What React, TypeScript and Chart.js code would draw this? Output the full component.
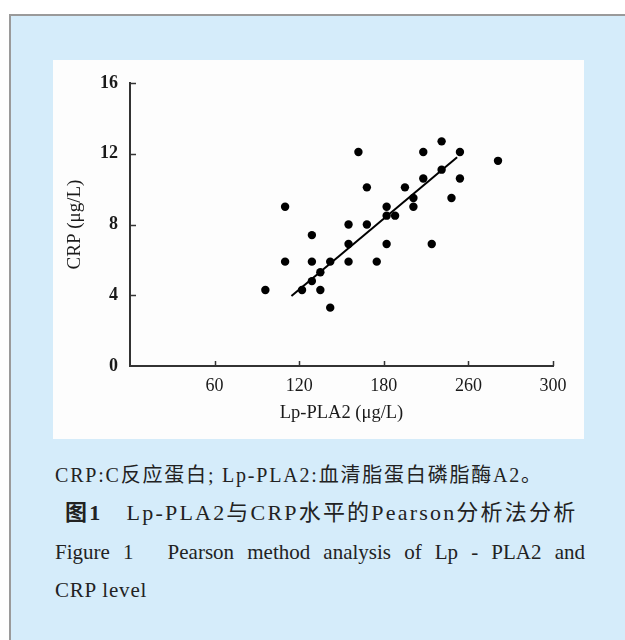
import React, { useEffect, useRef } from "react";
import { Chart, registerables } from "chart.js";

Chart.register(...registerables);

// Data
const lpPla2 = [162, 208, 221, 234, 261, 221, 208, 234, 168, 195, 201, 228, 110, 182, 201, 182, 188, 155, 168, 129, 155, 182, 214, 110, 129, 142, 155, 175, 135, 129, 96, 122, 135, 142];
const crp = [12.1, 12.1, 12.7, 12.1, 11.6, 11.1, 10.6, 10.6, 10.1, 10.1, 9.5, 9.5, 9.0, 9.0, 9.0, 8.5, 8.5, 8.0, 8.0, 7.4, 6.9, 6.9, 6.9, 5.9, 5.9, 5.9, 5.9, 5.9, 5.3, 4.8, 4.3, 4.3, 4.3, 3.3];
const fitX = [114.5, 232];
const fitY = [3.96, 11.8];
const xTickLabels = ["", "60", "120", "180", "260", "300"];
const yTickLabels = ["0", "4", "8", "12", "16"];
const xTitle = "Lp-PLA2 (μg/L)";
const yTitle = "CRP (μg/L)";

const SERIF = "'Liberation Serif', 'DejaVu Serif', serif";
const CJK = "'Liberation Serif', 'Noto Sans CJK SC', serif";

const innerTicks = {
  id: "innerTicks",
  afterDraw(chart: any) {
    const { ctx, scales } = chart;
    const xs = scales.x;
    const ys = scales.y;
    ctx.save();
    ctx.strokeStyle = "#333";
    ctx.lineWidth = 1.5;
    xs.ticks.forEach((t: any) => {
      if (t.value === 0) return;
      const px = Math.round(xs.getPixelForValue(t.value)) + 0.5;
      ctx.beginPath();
      ctx.moveTo(px, ys.bottom);
      ctx.lineTo(px, ys.bottom - 5);
      ctx.stroke();
    });
    ys.ticks.forEach((t: any) => {
      if (t.value === 0) return;
      const py = Math.round(ys.getPixelForValue(t.value)) + 0.5;
      ctx.beginPath();
      ctx.moveTo(xs.left, py);
      ctx.lineTo(xs.left + 6, py);
      ctx.stroke();
    });
    ctx.restore();
  },
};

function ScatterChart() {
  const ref = useRef<HTMLCanvasElement | null>(null);
  useEffect(() => {
    if (!ref.current) return;
    const points = lpPla2.map((x, i) => ({ x, y: crp[i] }));
    const fit = fitX.map((x, i) => ({ x, y: fitY[i] }));
    const chart = new Chart(ref.current, {
      type: "scatter",
      data: {
        datasets: [
          {
            data: points,
            backgroundColor: "#000",
            borderColor: "#000",
            pointRadius: 4.2,
            pointHoverRadius: 4.2,
            borderWidth: 0,
          },
          {
            type: "line",
            data: fit,
            borderColor: "#000",
            borderWidth: 2,
            pointRadius: 0,
            fill: false,
          } as any,
        ],
      },
      plugins: [innerTicks],
      options: {
        animation: false,
        responsive: false,
        maintainAspectRatio: false,
        layout: { padding: { left: 10.6, top: 23, right: 31, bottom: 14.9 } },
        plugins: { legend: { display: false }, tooltip: { enabled: false } },
        scales: {
          x: {
            type: "linear",
            min: 0,
            max: 300,
            afterFit: (s: any) => {
              s.height = 58.1;
            },
            afterBuildTicks: (s: any) => {
              s.ticks = xTickLabels.map((_, i) => ({ value: i * 60 }));
            },
            ticks: {
              padding: 9,
              color: "#1a1a1a",
              font: { family: SERIF, size: 18 },
              maxRotation: 0,
              autoSkip: false,
              callback: (_v: any, i: number) => xTickLabels[i],
            },
            grid: { display: false, drawTicks: false },
            border: { display: true, color: "#333", width: 2 },
            title: {
              display: true,
              text: xTitle,
              color: "#1a1a1a",
              font: { family: SERIF, size: 18.5 },
              padding: 0,
            },
          },
          y: {
            type: "linear",
            min: 0,
            max: 16,
            afterFit: (s: any) => {
              s.width = 66.4;
            },
            afterBuildTicks: (s: any) => {
              s.ticks = yTickLabels.map((_, i) => ({ value: i * 4 }));
            },
            ticks: {
              padding: 12,
              color: "#1a1a1a",
              font: { family: SERIF, size: 18, weight: "bold" },
              autoSkip: false,
              callback: (_v: any, i: number) => yTickLabels[i],
            },
            grid: { display: false, drawTicks: false },
            border: { display: true, color: "#333", width: 2 },
            title: {
              display: true,
              text: yTitle,
              color: "#1a1a1a",
              font: { family: SERIF, size: 19 },
              padding: 0,
            },
          },
        },
      } as any,
    });
    return () => chart.destroy();
  }, []);
  return <canvas ref={ref} width={531} height={379} style={{ display: "block", width: 531, height: 379 }} />;
}

const lineStyle = (top: number, size: number, extra: React.CSSProperties = {}): React.CSSProperties => ({
  position: "absolute",
  left: 55,
  width: 530,
  top: top - 15,
  height: 30,
  lineHeight: "30px",
  fontSize: size,
  fontFamily: CJK,
  color: "#222",
  whiteSpace: "nowrap",
  ...extra,
});

export default function App() {
  return (
    <div style={{ position: "absolute", left: 0, top: 0, width: 625, height: 640, overflow: "hidden", background: "#fff" }}>
      <div
        style={{
          position: "absolute",
          left: 9,
          top: 14,
          width: 640,
          height: 640,
          background: "#d5ecfa",
          borderTop: "2px solid #9a9a9a",
          borderLeft: "2px solid #9a9a9a",
        }}
      />
      <div style={{ position: "absolute", left: 53, top: 60, width: 531, height: 379, background: "#fdfdfd" }}>
        <ScatterChart />
      </div>
      <div style={lineStyle(475, 20, { letterSpacing: 1.8 })}>CRP:C反应蛋白; Lp-PLA2:血清脂蛋白磷脂酶A2。</div>
      <div style={lineStyle(513, 22, { left: 65, letterSpacing: 2.2 })}>
        <b>图1</b>
        {"\u2003"}Lp-PLA2与CRP水平的Pearson分析法分析
      </div>
      <div
        style={{
          ...lineStyle(552, 21),
          whiteSpace: "normal",
          textAlign: "justify",
          textAlignLast: "justify",
        }}
      >
        Figure 1{"\u2003"} Pearson method analysis of Lp - PLA2 and
      </div>
      <div style={lineStyle(590, 21, { letterSpacing: 0.8 })}>CRP level</div>
    </div>
  );
}
